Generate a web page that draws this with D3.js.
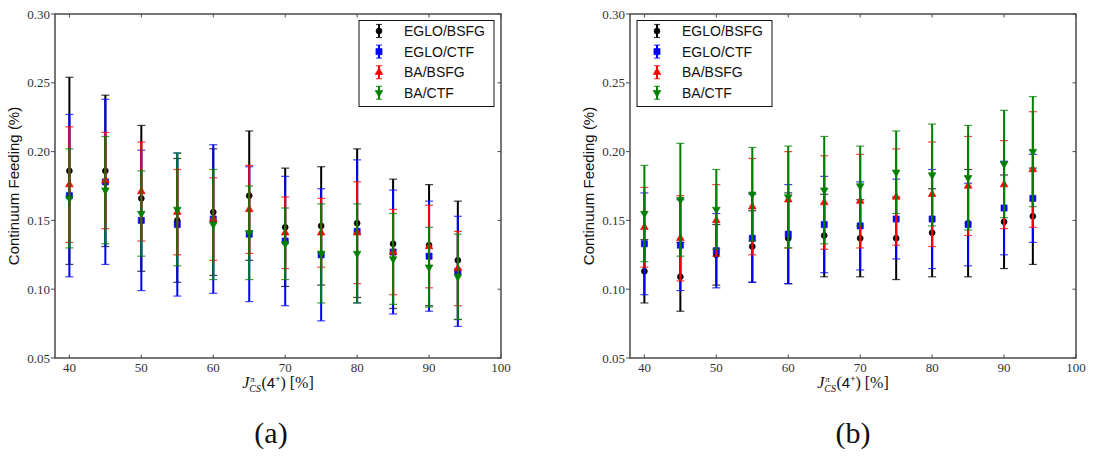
<!DOCTYPE html>
<html>
<head>
<meta charset="utf-8">
<script src="https://cdn.jsdelivr.net/npm/d3@7"></script>
<style>
  body { margin: 0; background: #ffffff; }
  svg { display: block; }
</style>
</head>
<body>
<svg id="chart" width="1093" height="458"></svg>
<script>
// Shared x positions: J_CS(4+) in percent
const xValues = [40, 45, 50, 55, 60, 65, 70, 75, 80, 85, 90, 94];
const xTicks = [40, 50, 60, 70, 80, 90, 100];
const yTicks = [0.05, 0.10, 0.15, 0.20, 0.25, 0.30];

const seriesNames = ["EGLO/BSFG", "EGLO/CTF", "BA/BSFG", "BA/CTF"];
const seriesColors = ["#000000", "#0000ff", "#ff0000", "#008000"];
const markerShapes = ["circle", "square", "triangleUp", "triangleDown"];

// Panel (a)
const aEgloBsfg    = [0.186, 0.186, 0.166, 0.150, 0.156, 0.168, 0.145, 0.146, 0.148, 0.133, 0.132, 0.121];
const aEgloBsfgErr = [0.068, 0.055, 0.053, 0.045, 0.046, 0.047, 0.043, 0.043, 0.054, 0.047, 0.044, 0.043];
const aEgloCtf     = [0.168, 0.178, 0.150, 0.147, 0.151, 0.140, 0.135, 0.125, 0.142, 0.127, 0.124, 0.113];
const aEgloCtfErr  = [0.059, 0.060, 0.051, 0.052, 0.054, 0.049, 0.047, 0.048, 0.052, 0.045, 0.040, 0.040];
const aBaBsfg      = [0.176, 0.179, 0.171, 0.156, 0.151, 0.158, 0.141, 0.141, 0.141, 0.127, 0.131, 0.115];
const aBaBsfgErr   = [0.042, 0.035, 0.036, 0.031, 0.030, 0.032, 0.026, 0.025, 0.037, 0.031, 0.030, 0.027];
const aBaCtf       = [0.166, 0.172, 0.155, 0.158, 0.147, 0.141, 0.133, 0.126, 0.126, 0.122, 0.116, 0.109];
const aBaCtfErr    = [0.036, 0.039, 0.031, 0.041, 0.040, 0.034, 0.026, 0.036, 0.036, 0.033, 0.029, 0.031];

// Panel (b)
const bEgloBsfg    = [0.113, 0.109, 0.125, 0.131, 0.137, 0.139, 0.137, 0.137, 0.141, 0.148, 0.149, 0.153];
const bEgloBsfgErr = [0.023, 0.025, 0.022, 0.026, 0.033, 0.030, 0.028, 0.030, 0.032, 0.039, 0.034, 0.035];
const bEgloCtf     = [0.133, 0.132, 0.128, 0.137, 0.140, 0.147, 0.146, 0.151, 0.151, 0.147, 0.159, 0.166];
const bEgloCtfErr  = [0.037, 0.033, 0.027, 0.032, 0.036, 0.035, 0.032, 0.029, 0.036, 0.030, 0.034, 0.032];
const bBaBsfg      = [0.145, 0.137, 0.150, 0.160, 0.165, 0.163, 0.164, 0.167, 0.169, 0.175, 0.176, 0.187];
const bBaBsfgErr   = [0.029, 0.031, 0.026, 0.035, 0.035, 0.034, 0.034, 0.035, 0.038, 0.036, 0.032, 0.042];
const bBaCtf       = [0.155, 0.165, 0.158, 0.169, 0.167, 0.172, 0.175, 0.185, 0.183, 0.181, 0.191, 0.200];
const bBaCtfErr    = [0.035, 0.041, 0.029, 0.034, 0.037, 0.039, 0.029, 0.030, 0.037, 0.038, 0.039, 0.040];

const panels = [
  { caption: "(a)", left: 55, right: 501, captionX: 271, legendSide: "right",
    values: [aEgloBsfg, aEgloCtf, aBaBsfg, aBaCtf],
    errors: [aEgloBsfgErr, aEgloCtfErr, aBaBsfgErr, aBaCtfErr] },
  { caption: "(b)", left: 630, right: 1076, captionX: 853, legendSide: "left",
    values: [bEgloBsfg, bEgloCtf, bBaBsfg, bBaCtf],
    errors: [bEgloBsfgErr, bEgloCtfErr, bBaBsfgErr, bBaCtfErr] }
];

const TOP = 14, BOTTOM = 358;
const SERIF = "'Liberation Serif', 'DejaVu Serif', serif";
const SANS = "'Liberation Sans', Arial, Helvetica, sans-serif";
const AXIS_COLOR = "#4a4a4a";

const svg = d3.select("#chart");

function markerPath(shape, size) {
  const types = {
    circle: d3.symbolCircle,
    square: d3.symbolSquare,
    triangleUp: d3.symbolTriangle,
    triangleDown: d3.symbolTriangle
  };
  return d3.symbol().type(types[shape]).size(size)();
}
const markerSizes = { circle: 28, square: 38, triangleUp: 26, triangleDown: 26 };

function drawMarker(g, shape, color, cx, cy) {
  g.append("path")
    .attr("d", markerPath(shape, markerSizes[shape]))
    .attr("transform", `translate(${cx},${cy})` + (shape === "triangleDown" ? " rotate(180)" : ""))
    .attr("fill", color)
    .attr("stroke", color)
    .attr("stroke-width", 0.6);
}

panels.forEach(p => {
  const x = d3.scaleLinear().domain([38, 100]).range([p.left, p.right]);
  const y = d3.scaleLinear().domain([0.05, 0.30]).range([BOTTOM, TOP]);
  const g = svg.append("g");

  // Error bars, caps and markers, one series after another
  p.values.forEach((vals, si) => {
    const color = seriesColors[si];
    const errs = p.errors[si];
    const sg = g.append("g");
    const pts = xValues.map((xv, i) => ({ x: xv, v: vals[i], e: errs[i] }));
    sg.selectAll("line.bar").data(pts).join("line")
      .attr("x1", d => x(d.x)).attr("x2", d => x(d.x))
      .attr("y1", d => y(d.v - d.e)).attr("y2", d => y(d.v + d.e))
      .attr("stroke", color).attr("stroke-width", 2);
    ["lo", "hi"].forEach(k => {
      sg.selectAll("line.cap" + k).data(pts).join("line")
        .attr("x1", d => x(d.x) - 4).attr("x2", d => x(d.x) + 4)
        .attr("y1", d => y(k === "lo" ? d.v - d.e : d.v + d.e))
        .attr("y2", d => y(k === "lo" ? d.v - d.e : d.v + d.e))
        .attr("stroke", color).attr("stroke-width", 1.2).attr("stroke-opacity", 0.75);
    });
    pts.forEach(d => drawMarker(sg, markerShapes[si], color, x(d.x), y(d.v)));
  });

  // Frame
  g.append("rect")
    .attr("x", p.left).attr("y", TOP)
    .attr("width", p.right - p.left).attr("height", BOTTOM - TOP)
    .attr("fill", "none").attr("stroke", AXIS_COLOR).attr("stroke-width", 1.5);

  // Ticks: x inward on bottom and top, y outward on left and inward on right
  xTicks.forEach(t => {
    const xp = x(t);
    g.append("line").attr("x1", xp).attr("x2", xp).attr("y1", BOTTOM).attr("y2", BOTTOM - 3.5)
      .attr("stroke", AXIS_COLOR).attr("stroke-width", 1);
    g.append("line").attr("x1", xp).attr("x2", xp).attr("y1", TOP).attr("y2", TOP + 3.5)
      .attr("stroke", AXIS_COLOR).attr("stroke-width", 1);
    g.append("text").attr("x", xp).attr("y", BOTTOM + 14)
      .attr("text-anchor", "middle").attr("font-family", SERIF).attr("font-size", 13)
      .attr("fill", "#333").text(d3.format("d")(t));
  });
  yTicks.forEach(t => {
    const yp = y(t);
    g.append("line").attr("x1", p.left).attr("x2", p.left - 4).attr("y1", yp).attr("y2", yp)
      .attr("stroke", AXIS_COLOR).attr("stroke-width", 1);
    g.append("line").attr("x1", p.right).attr("x2", p.right - 3.5).attr("y1", yp).attr("y2", yp)
      .attr("stroke", AXIS_COLOR).attr("stroke-width", 1);
    g.append("text").attr("x", p.left - 5).attr("y", yp + 4.5)
      .attr("text-anchor", "end").attr("font-family", SERIF).attr("font-size", 13)
      .attr("fill", "#333").text(d3.format(".2f")(t));
  });

  // Y axis title
  g.append("text")
    .attr("transform", `translate(${p.left - 36},${(TOP + BOTTOM) / 2}) rotate(-90)`)
    .attr("text-anchor", "middle").attr("font-family", SANS).attr("font-size", 15)
    .attr("fill", "#111").text("Continuum Feeding (%)");

  // X axis title: J^π_CS(4+) [%]
  const lab = g.append("g");
  let cursor = 0;
  function piece(str, opts) {
    const t = lab.append("text").attr("x", cursor + (opts.dx || 0)).attr("y", opts.dy || 0)
      .attr("font-family", opts.family).attr("font-size", opts.size)
      .attr("font-style", opts.italic ? "italic" : "normal").attr("fill", "#111").text(str);
    return t.node().getComputedTextLength();
  }
  cursor += piece("J", { family: SERIF, size: 16, italic: true });
  const wPi = piece("π", { family: SERIF, size: 9, italic: true, dy: -6, dx: 1 });
  const wCs = piece("CS", { family: SERIF, size: 10, italic: true, dy: 3.5 });
  cursor += Math.max(wPi + 1, wCs) + 0.5;
  cursor += piece("(", { family: SERIF, size: 16 });
  cursor += piece("4", { family: SANS, size: 15 });
  cursor += piece("+", { family: SANS, size: 9, dy: -6 });
  cursor += piece(") [%]", { family: SERIF, size: 16 });
  const lb = lab.node().getBBox();
  lab.attr("transform", `translate(${(p.left + p.right) / 2 - lb.width / 2 - lb.x},${BOTTOM + 30})`);

  // Legend
  const lw = 135, lh = 86;
  const lx = p.legendSide === "right" ? p.right - 7 - lw : p.left + 7;
  const ly = 20.5;
  const lg = g.append("g").attr("transform", `translate(${lx},${ly})`);
  lg.append("rect").attr("width", lw).attr("height", lh)
    .attr("fill", "#fff").attr("stroke", "#111").attr("stroke-width", 1);
  seriesNames.forEach((name, si) => {
    const cy = 10.5 + si * 20.6;
    const color = seriesColors[si];
    lg.append("line").attr("x1", 20).attr("x2", 20).attr("y1", cy - 6.5).attr("y2", cy + 6.5)
      .attr("stroke", color).attr("stroke-width", 2);
    [cy - 6.5, cy + 6.5].forEach(cyy => {
      lg.append("line").attr("x1", 17).attr("x2", 23).attr("y1", cyy).attr("y2", cyy)
        .attr("stroke", color).attr("stroke-width", 1.2).attr("stroke-opacity", 0.75);
    });
    drawMarker(lg, markerShapes[si], color, 20, cy);
    lg.append("text").attr("x", 45).attr("y", cy + 5)
      .attr("font-family", SANS).attr("font-size", 14).attr("fill", "#111").text(name);
  });

  // Sub-figure caption
  svg.append("text").attr("x", p.captionX).attr("y", 443)
    .attr("text-anchor", "middle").attr("font-family", SERIF).attr("font-size", 30)
    .attr("fill", "#111").text(p.caption);
});
</script>
</body>
</html>
